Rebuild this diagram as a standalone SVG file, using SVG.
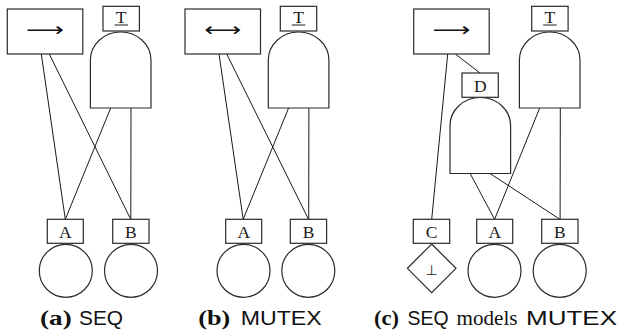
<svg xmlns="http://www.w3.org/2000/svg" width="624" height="334" viewBox="0 0 624 334">
<defs>
<style>
.b{fill:#fff;stroke:#2a2a2a;stroke-width:1.2}
.c{stroke:#1a1a1a;stroke-width:1;fill:none}
.lbl{font-family:"Liberation Serif",serif;font-size:17.5px;fill:#1a1a1a;text-anchor:middle}
.arr{font-family:"DejaVu Sans",sans-serif;font-size:19px;fill:#111;text-anchor:middle}
.cb{font-family:"Liberation Serif",serif;font-weight:bold;font-size:22px;fill:#111}
.cs{font-family:"Liberation Sans",sans-serif;font-size:21px;fill:#111}
.cr{font-family:"Liberation Serif",serif;font-size:21px;fill:#111}
</style>
<path id="gate" d="M0,76 V28 A30.3,28 0 0 1 60.6,28 V76 Z"/>
</defs>
<g id="connectors">
<line class="c" x1="41.3" y1="54" x2="65.3" y2="219.3"/>
<line class="c" x1="49.3" y1="54" x2="130.7" y2="219.3"/>
<line class="c" x1="110.7" y1="108" x2="65.3" y2="219.3"/>
<line class="c" x1="131" y1="108" x2="130.8" y2="219.3"/>
<line class="c" x1="219" y1="54" x2="243.2" y2="219.3"/>
<line class="c" x1="226.7" y1="54" x2="308.5" y2="219.3"/>
<line class="c" x1="288.6" y1="108" x2="243.2" y2="219.3"/>
<line class="c" x1="308.9" y1="108" x2="308.7" y2="219.3"/>
<line class="c" x1="447.7" y1="54" x2="431.7" y2="219.3"/>
<line class="c" x1="455.3" y1="54" x2="480" y2="73"/>
<line class="c" x1="470" y1="173.3" x2="494.6" y2="219.3"/>
<line class="c" x1="489.7" y1="173.3" x2="559.9" y2="219.3"/>
<line class="c" x1="539.7" y1="108" x2="494.6" y2="219.3"/>
<line class="c" x1="560.3" y1="108" x2="560.1" y2="219.3"/>
</g>
<g id="a-seq">
<rect class="b" x="7.3" y="9" width="75.5" height="45"/>
<text class="arr" x="45" y="35.8" textLength="38" lengthAdjust="spacingAndGlyphs">⟶</text>
</g>
<g id="a-t">
<rect class="b" x="103" y="6.3" width="36.4" height="24.7"/>
<text class="lbl" x="121.2" y="22.5">T</text>
<line x1="114.5" y1="25" x2="128" y2="25" stroke="#1a1a1a" stroke-width="1"/>
</g>
<g id="a-gate"><use href="#gate" class="b" x="90.4" y="32"/></g>
<g id="a-A"><rect class="b" x="47.3" y="219.3" width="36" height="24"/><text class="lbl" x="65.3" y="237.5">A</text><circle class="b" cx="65.8" cy="270.8" r="26.5"/></g>
<g id="a-B"><rect class="b" x="112.7" y="219.3" width="36.3" height="24"/><text class="lbl" x="130.8" y="237.5">B</text><circle class="b" cx="131" cy="270.8" r="26.5"/></g>
<g id="b-mutex">
<rect class="b" x="185" y="9" width="75.5" height="45"/>
<text class="arr" x="222.7" y="35.8" textLength="37" lengthAdjust="spacingAndGlyphs">⟷</text>
</g>
<g id="b-t">
<rect class="b" x="280.3" y="6.3" width="36.4" height="24.7"/>
<text class="lbl" x="298.5" y="22.5">T</text>
<line x1="291.8" y1="25" x2="305.3" y2="25" stroke="#1a1a1a" stroke-width="1"/>
</g>
<g id="b-gate"><use href="#gate" class="b" x="268.3" y="32"/></g>
<g id="b-A"><rect class="b" x="225.7" y="219.3" width="36" height="24"/><text class="lbl" x="243.7" y="237.5">A</text><circle class="b" cx="243.5" cy="270.8" r="26.5"/></g>
<g id="b-B"><rect class="b" x="290.3" y="219.3" width="36.3" height="24"/><text class="lbl" x="308.5" y="237.5">B</text><circle class="b" cx="308.3" cy="270.8" r="26.5"/></g>
<g id="c-seq">
<rect class="b" x="413.7" y="9" width="75.5" height="45"/>
<text class="arr" x="451.5" y="35.8" textLength="38" lengthAdjust="spacingAndGlyphs">⟶</text>
</g>
<g id="c-t">
<rect class="b" x="531.7" y="6.3" width="36.4" height="24.7"/>
<text class="lbl" x="549.9" y="22.5">T</text>
<line x1="543.2" y1="25" x2="556.7" y2="25" stroke="#1a1a1a" stroke-width="1"/>
</g>
<g id="c-tgate"><use href="#gate" class="b" x="519.4" y="32"/></g>
<g id="c-d"><rect class="b" x="462" y="73" width="36.3" height="24.3"/><text class="lbl" x="480.2" y="91.7">D</text></g>
<g id="c-dgate"><use href="#gate" class="b" x="450" y="97.5"/></g>
<g id="c-C"><rect class="b" x="413.3" y="219.3" width="36.4" height="24"/><text class="lbl" x="431.5" y="237.5">C</text>
<path class="b" d="M431.7,244 L456,268.3 L431.7,292.7 L407.4,268.3 Z"/>
<text x="431.7" y="274.5" font-family="DejaVu Sans, sans-serif" font-size="14" text-anchor="middle" fill="#222">⊥</text></g>
<g id="c-A"><rect class="b" x="476.7" y="219.3" width="36" height="24"/><text class="lbl" x="494.7" y="237.5">A</text><circle class="b" cx="494.5" cy="270.8" r="26.5"/></g>
<g id="c-B"><rect class="b" x="541.7" y="219.3" width="36.3" height="24"/><text class="lbl" x="559.9" y="237.5">B</text><circle class="b" cx="559.7" cy="270.8" r="26.5"/></g>
<g id="captions">
<text class="cb" x="40" y="324.5" textLength="31.7" lengthAdjust="spacingAndGlyphs">(a)</text>
<text class="cs" x="79" y="324.5" textLength="44" lengthAdjust="spacingAndGlyphs">SEQ</text>
<text class="cb" x="198.3" y="324.5" textLength="32" lengthAdjust="spacingAndGlyphs">(b)</text>
<text class="cs" x="240.7" y="324.5" textLength="81" lengthAdjust="spacingAndGlyphs">MUTEX</text>
<text class="cb" x="374" y="324.5" textLength="25" lengthAdjust="spacingAndGlyphs">(c)</text>
<text class="cs" x="407.5" y="324.5" textLength="41" lengthAdjust="spacingAndGlyphs">SEQ</text>
<text class="cr" x="456.5" y="324.5" textLength="61" lengthAdjust="spacingAndGlyphs">models</text>
<text class="cs" x="526" y="324.5" textLength="91" lengthAdjust="spacingAndGlyphs">MUTEX</text>
</g>
</svg>
